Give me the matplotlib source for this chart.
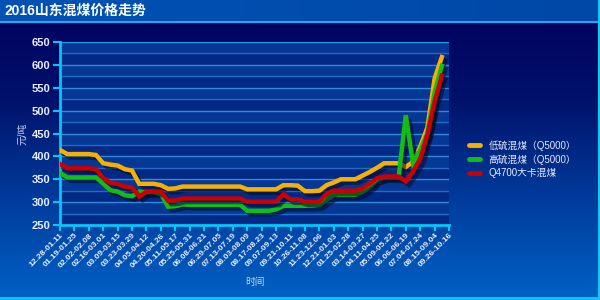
import numpy as np
import matplotlib
matplotlib.use("Agg")
import matplotlib.pyplot as plt
import matplotlib.patheffects as pe
from matplotlib.colors import LinearSegmentedColormap

plt.rcParams['font.family'] = ['Liberation Sans', 'Noto Sans CJK SC', 'DejaVu Sans']

# ---- data ----
tick_labels = ['12.28-01.11', '01.19-01.25', '02.02-02.08', '02.16-03.01', '03.09-03.15',
               '03.23-03.29', '04.05-04.12', '04.20-04.26', '05.11-05.17', '05.25-05.31',
               '06.08-06.21', '06.29-07.05', '07.13-07.19', '08.03-08.09', '08.17-08.23',
               '09.07-09.13', '09.21-10.11', '10.26-11.08', '11.23-12.06', '12.21-01.03',
               '01.25-02.28', '03.14-03.27', '04.11-04.25', '05.09-05.22', '06.06-06.19',
               '07.04-07.24', '08.15-09.04', '09.26-10.16']

low_sulfur = [414, 405, 405, 405, 405, 403, 385, 382, 380, 372,
              369, 340, 340, 340, 337, 329, 330, 334, 334, 334,
              334, 334, 334, 334, 334, 334, 328, 328, 328, 328,
              328, 337, 337, 336, 324, 324, 325, 337, 343, 350,
              350, 350, 358, 366, 375, 385, 385, 385, 377, 388,
              421, 463, 570, 617]
high_sulfur = [364, 354, 354, 354, 354, 354, 340, 326, 323, 315,
               313, 323, 322, 322, 318, 290, 291, 295, 294, 294,
               294, 294, 294, 294, 294, 294, 281, 281, 281, 281,
               284, 292, 292, 292, 292, 292, 294, 305, 316, 316,
               316, 316, 322, 334, 349, 354, 354, 354, 490, 385,
               414, 451, 540, 598]
q4700 = [383, 374, 374, 374, 374, 372, 353, 342, 340, 334,
         332, 312, 323, 323, 323, 303, 304, 308, 308, 308,
         308, 308, 308, 308, 308, 308, 301, 301, 301, 301,
         301, 317, 306, 306, 301, 301, 301, 318, 325, 325,
         325, 325, 330, 340, 352, 356, 356, 356, 345, 367,
         394, 448, 520, 576]

series_names = ['低硫混煤（Q5000）', '高硫混煤（Q5000）', 'Q4700大卡混煤']
series_colors = ['#F7B000', '#12BE12', '#CC0000']

fig = plt.figure(figsize=(6, 3), dpi=100)

# background gradient
bg = fig.add_axes([0, 0, 1, 1], zorder=-10)
bg.set_axis_off()
cmap = LinearSegmentedColormap.from_list('bg', ['#0062C6', '#003C9C', '#00126C', '#00005E'])
grad = np.linspace(0, 1, 256).reshape(-1, 1)
bg.imshow(grad, aspect='auto', cmap=cmap, extent=[0, 1, 0, 1], origin='lower')
# title bar
tb_cmap = LinearSegmentedColormap.from_list('tb', ['#0052B4', '#0048A8'])
bg.imshow(np.linspace(0, 1, 64).reshape(1, -1), aspect='auto', cmap=tb_cmap,
          extent=[0, 1, 1 - 21 / 300, 1], zorder=1)
bg.axhline(1 - 21.5 / 300, color='#22A8F0', lw=1.5, zorder=2)
bg.axhline(1 - 298 / 300, color='#10C8F0', lw=2, zorder=2)
bg.axvline(1 - 1 / 600, color='#10C8F0', lw=1.5, zorder=2)
bg.set_xlim(0, 1); bg.set_ylim(0, 1)

fig.text(0.008, 1 - 11 / 300, '2016山东混煤价格走势', color='white', fontsize=10,
         fontweight='bold', va='center', ha='left')

ax = fig.add_axes([60 / 600, 1 - 225 / 300, 389 / 600, 183 / 300])
ax.set_facecolor('#00207E')
ax.set_xlim(0, 54)
ax.set_ylim(250, 650)

# alternating bands and grid
for y0 in range(250, 650, 50):
    ax.axhspan(y0 + 25, y0 + 50, color='#0A4AA8', alpha=0.55, lw=0, zorder=0)
    ax.axhspan(y0, y0 + 25, color='#0A3A96', alpha=0.35, lw=0, zorder=0)
for yv in range(275, 651, 25):
    ax.axhline(yv, color='#2E8CD8' if yv % 50 == 0 else '#1F6CC4', lw=1.0, zorder=1)
ax.axhline(650, color='#22A0E8', lw=1.2, zorder=1)

x = np.arange(len(low_sulfur))
for vals, name, col in zip([low_sulfur, high_sulfur, q4700], series_names, series_colors):
    ax.plot(x, vals, color=col, lw=3.2, label=name, zorder=3, solid_joinstyle='miter',
            path_effects=[pe.SimpleLineShadow(offset=(2.5, -2.5), shadow_color='#000828', alpha=0.55),
                          pe.Normal()])

ax.set_yticks(range(250, 651, 50))
ax.set_xticks(np.arange(0, 55, 2))
ax.set_xticklabels(tick_labels, rotation=45, ha='right', rotation_mode='anchor',
                   fontsize=6, fontweight='bold', color='#E8EEFF')
for lab in ax.get_yticklabels():
    lab.set_fontweight('bold')
ax.tick_params(axis='y', colors='#00C8F8', labelcolor='#E8EEFF', labelsize=8,
               length=5, width=1.5, direction='out', pad=2)
ax.tick_params(axis='x', colors='#00C8F8', labelcolor='#E8EEFF',
               length=4, width=1.5, direction='out', pad=1)
for s in ['top', 'right']:
    ax.spines[s].set_visible(False)
for s in ['left', 'bottom']:
    ax.spines[s].set_color('#00C8F8')
    ax.spines[s].set_linewidth(2)

ax.set_ylabel('元/吨', color='#C8D4F0', fontsize=7)
ax.yaxis.set_label_coords(-33 / 389, 0.5)
ax.set_xlabel('时间', color='#C8D4F0', fontsize=7)
ax.xaxis.set_label_coords(0.5, -52 / 183)

leg = ax.legend(loc='center left', bbox_to_anchor=(1.03, 0.36), frameon=False,
                fontsize=7, labelcolor='#E6ECFF', handlelength=1.1, handletextpad=0.9,
                labelspacing=0.35)
for h in leg.get_lines():
    h.set_linewidth(3.5)
    h.set_solid_capstyle('round')
    h.set_path_effects([])

fig.savefig('out.png', dpi=100)
